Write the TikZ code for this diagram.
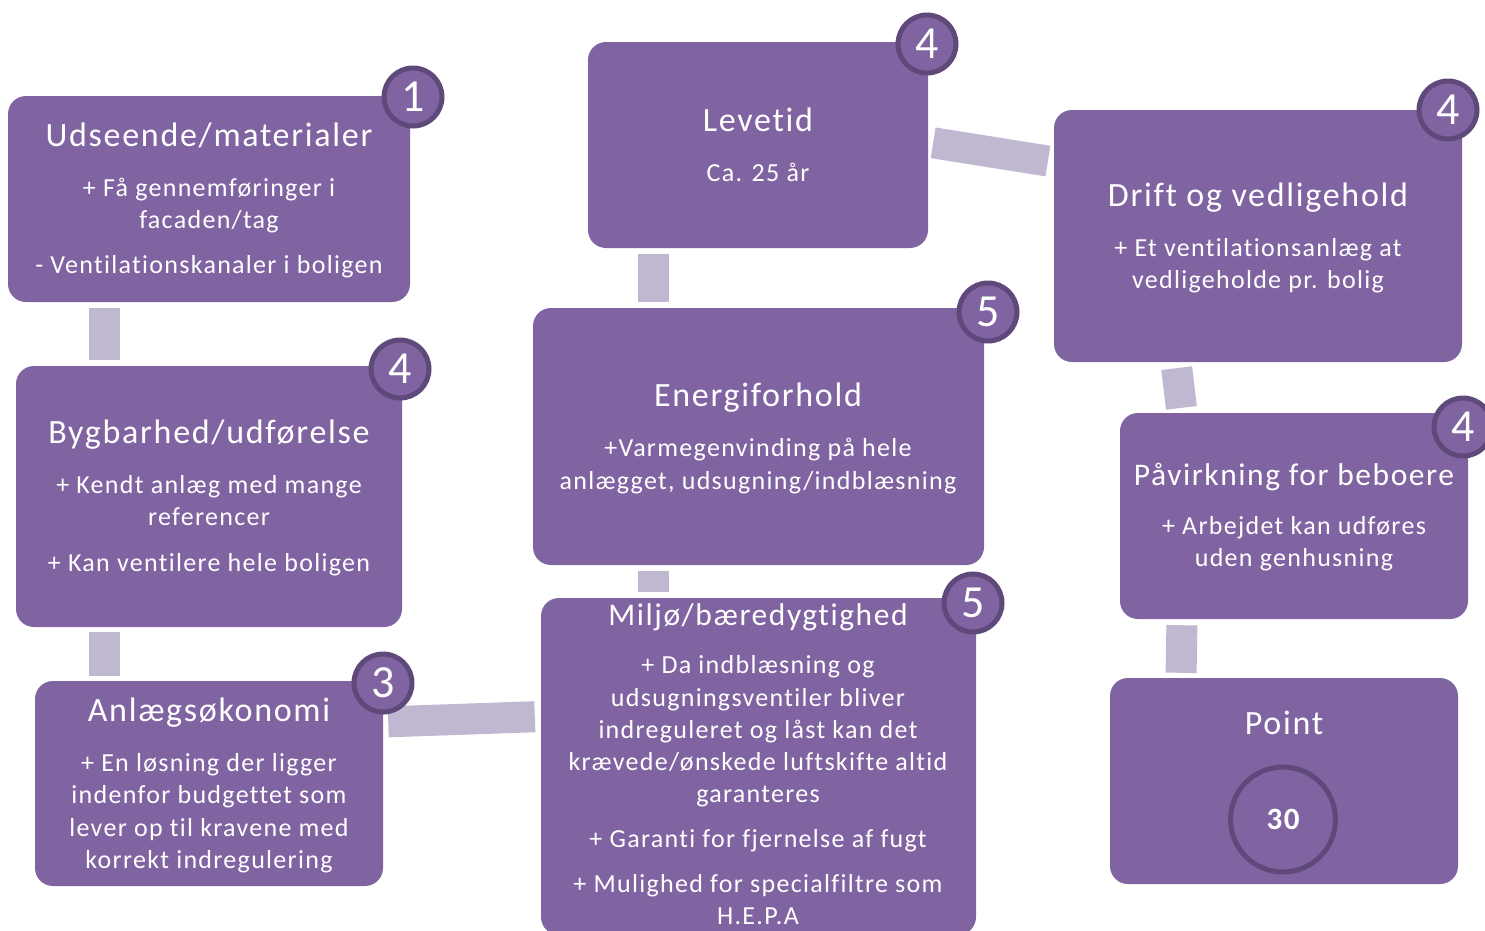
\documentclass[tikz,border=0pt]{standalone}
\usepackage{fontspec}
\setmainfont{Carlito}[LetterSpace=5, Ligatures=NoCommon]
\definecolor{boxc}{HTML}{8064A2}
\definecolor{ringc}{HTML}{5F497A}
\definecolor{linkc}{HTML}{BFB8D0}
\newcommand\MyTitle[4]{\node[ttl] (#1) at (#2,#3) {#4};}
\newcommand\MyBody[4]{\node[bdy] (#1) at (#2,#3) {#4};}
\newcommand\MyBadge[4]{\node[badge] (#1) at (#2,#3) {#4};}
\begin{document}
\begin{tikzpicture}[x=1pt,y=-1pt,
  box/.style={fill=boxc, rounded corners=18pt, inner sep=0pt, draw=none},
  ttl/.style={text=white, anchor=base, inner sep=0pt, font=\fontsize{34}{40}\selectfont},
  smallttl/.style={ttl, font=\fontsize{31.5}{38}\selectfont},
  bdy/.style={text=white, anchor=base, inner sep=0pt, font=\fontsize{26}{31}\selectfont},
  badge/.style={circle, fill=boxc, draw=ringc, line width=5pt, minimum size=58pt, inner sep=0pt, text=white, font=\fontsize{46}{50}\selectfont},
  link/.style={draw=linkc, line width=31pt}
]
\clip (0,0) rectangle (1485,930);
\fill[white] (0,0) rectangle (1485,930);
% boxes
\node[box, minimum width=402pt, minimum height=206pt] (b1) at (209,199) {};
\node[box, minimum width=386pt, minimum height=261pt] (b2) at (209,496.5) {};
\node[box, minimum width=348pt, minimum height=205pt] (b3) at (209,783.5) {};
\node[box, minimum width=340pt, minimum height=206pt] (b4) at (758,145) {};
\node[box, minimum width=451pt, minimum height=257pt] (b5) at (758.5,436.5) {};
\node[box, minimum width=435pt, minimum height=337pt] (b6) at (758.5,766.5) {};
\node[box, minimum width=408pt, minimum height=252pt] (b7) at (1258,236) {};
\node[box, minimum width=348pt, minimum height=206pt] (b8) at (1294,516) {};
\node[box, minimum width=348pt, minimum height=206pt] (b9) at (1284,781) {};
% connectors
\draw[link, shorten <=6pt, shorten >=6pt] (b1.south -| 104,0) -- (b2.north -| 104,0);
\draw[link, shorten <=5pt, shorten >=5pt] (b2.south -| 104,0) -- (b3.north -| 104,0);
\draw[link, shorten <=5pt, shorten >=6pt] (b3.east |- 0,722) -- (b6.west |- 0,716.5);
\draw[link, shorten <=6pt, shorten >=6pt] (b4.south -| 653,0) -- (b5.north -| 653,0);
\draw[link, shorten <=6pt, shorten >=6pt] (b5.south -| 653,0) -- (b6.north -| 653,0);
\draw[link, shorten <=5pt, shorten >=6pt] (b4.east |- 0,142) -- (b7.west |- 0,162);
\draw[link, shorten <=6pt, shorten >=5pt] (b7.south -| 1176,0) -- (b8.north -| 1182,0);
\draw[link, shorten <=6pt, shorten >=5pt] (b8.south -| 1182,0) -- (b9.north -| 1181,0);
% badges
\MyBadge{n1}{413}{97}{1}
\MyBadge{n2}{400}{369}{4}
\MyBadge{n3}{383}{683}{3}
\MyBadge{n4}{927}{44}{4}
\MyBadge{n5}{988}{312}{5}
\MyBadge{n6}{973}{603}{5}
\MyBadge{n7}{1448}{110}{4}
\MyBadge{n8}{1463}{427}{4}
\node[circle, draw=ringc, line width=5pt, minimum size=105pt, inner sep=0pt, text=white, font=\fontsize{31}{34}\selectfont\bfseries] (pt) at (1283,819.5) {30};
% texts box 1
\MyTitle{t1}{209}{146}{Udseende/materialer}
\MyBody{t1a}{209}{196}{+ Få gennemføringer i}
\MyBody{t1b}{209}{228}{facaden/tag}
\MyBody{t1c}{209}{273}{- Ventilationskanaler i boligen}
% box 2
\MyTitle{t2}{209}{443}{Bygbarhed/udførelse}
\MyBody{t2a}{209}{493}{+ Kendt anlæg med mange}
\MyBody{t2b}{209}{525}{referencer}
\MyBody{t2c}{209}{571}{+ Kan ventilere hele boligen}
% box 3
\MyTitle{t3}{209}{721}{Anlægsøkonomi}
\MyBody{t3a}{209}{771}{+ En løsning der ligger}
\MyBody{t3b}{209}{803}{indenfor budgettet som}
\MyBody{t3c}{209}{836}{lever op til kravene med}
\MyBody{t3d}{209}{868}{korrekt indregulering}
% box 4
\MyTitle{t4}{758}{131}{Levetid}
\MyBody{t4a}{758}{181}{Ca. 25 år}
% box 5
\MyTitle{t5}{758}{406}{Energiforhold}
\MyBody{t5a}{758}{456}{+Varmegenvinding på hele}
\MyBody{t5b}{758}{489}{anlægget, udsugning/indblæsning}
% box 6
\node[smallttl] (t6) at (758,625) {Miljø/bæredygtighed};
\MyBody{t6a}{758}{673}{+ Da indblæsning og}
\MyBody{t6b}{758}{706}{udsugningsventiler bliver}
\MyBody{t6c}{758}{738}{indreguleret og låst kan det}
\MyBody{t6d}{758}{770}{krævede/ønskede luftskifte altid}
\MyBody{t6e}{758}{802}{garanteres}
\MyBody{t6f}{758}{847}{+ Garanti for fjernelse af fugt}
\MyBody{t6g}{758}{892}{+ Mulighed for specialfiltre som}
\MyBody{t6h}{758}{924}{H.E.P.A}
% box 7
\MyTitle{t7}{1258}{206}{Drift og vedligehold}
\MyBody{t7a}{1258}{256}{+ Et ventilationsanlæg at}
\MyBody{t7b}{1258}{288}{vedligeholde pr. bolig}
% box 8
\node[smallttl] (t8) at (1294,485) {Påvirkning for beboere};
\MyBody{t8a}{1294}{534}{+ Arbejdet kan udføres}
\MyBody{t8b}{1294}{566}{uden genhusning}
% box 9
\MyTitle{t9}{1284}{734}{Point}
\end{tikzpicture}
\end{document}
